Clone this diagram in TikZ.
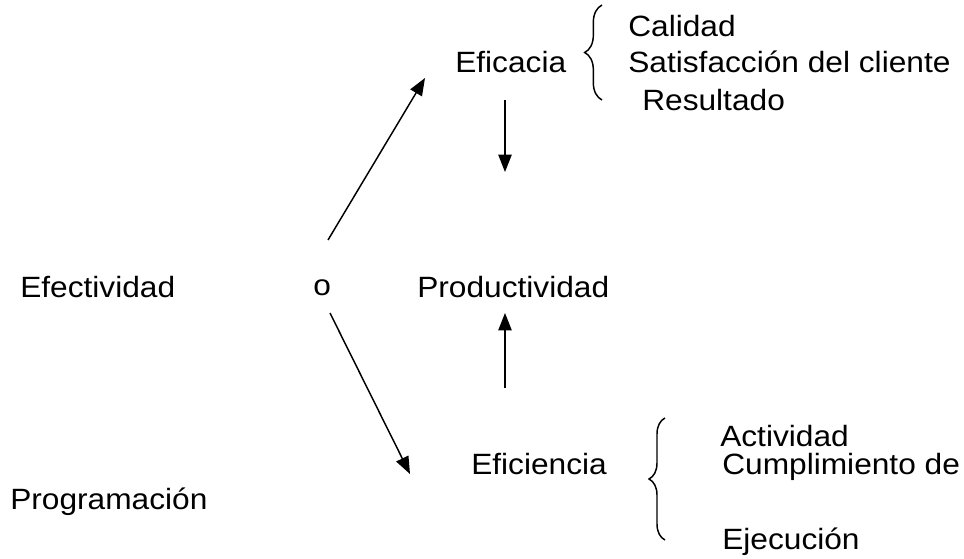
\documentclass[tikz,border=0pt]{standalone}
\usepackage{fontspec}
\setmainfont{Liberation Sans}[FakeStretch=1.08]
\usepackage{tikz}
\usetikzlibrary{arrows.meta, decorations.pathreplacing}
\tikzset{
  txt/.style={anchor=base west, inner sep=0pt},
  flecha/.style={-{Triangle[length=13pt, width=10pt]}, line width=1.1pt},
  llave/.style={decorate, decoration={brace, amplitude=#1}, line width=1.1pt}
}

\begin{document}
\begin{tikzpicture}[x=0.75pt, y=-0.75pt, font=\fontsize{22}{26}\selectfont]
  \useasboundingbox (0,0) rectangle (964,558);
  \node[txt] (efectividad) at (20,297) {Efectividad};
  \node[txt] (o) at (313,295) {o};
  \node[txt] (productividad) at (417,297) {Productividad};
  \node[txt] (programacion) at (10,509) {Programación};
  \node[txt] (eficacia) at (455,72) {Eficacia};
  \node[txt] (eficiencia) at (471,474) {Eficiencia};
  % lado de la eficacia
  \node[txt] (calidad) at (628,36) {Calidad};
  \node[txt] (satisf) at (628,72) {Satisfacción del cliente};
  \node[txt] (resultado) at (642,110) {Resultado};
  % lado de la eficiencia
  \node[txt] (actividad) at (720,446) {Actividad};
  \node[txt] (cumpl) at (722,474) {Cumplimiento de};
  \node[txt] (ejecucion) at (722,549) {Ejecución};
  \draw[llave=13pt] (602,100) -- (602,5);
  \draw[llave=12pt] (665,540) -- (665,418);
  \coordinate (o-arriba) at (328,240);
  \coordinate (o-abajo) at (330,313);
  \coordinate (efa-in) at (425,78);
  \coordinate (efi-in) at (410,474);
  \coordinate (efa-out) at (505,100);
  \coordinate (prod-top) at (505,172);
  \coordinate (efi-out) at (505,388);
  \coordinate (prod-bot) at (505,313);
  \draw[flecha] (o-arriba) -- (efa-in);
  \draw[flecha] (o-abajo) -- (efi-in);
  \draw[flecha] (efa-out) -- (prod-top);
  \draw[flecha] (efi-out) -- (prod-bot);
\end{tikzpicture}
\end{document}
